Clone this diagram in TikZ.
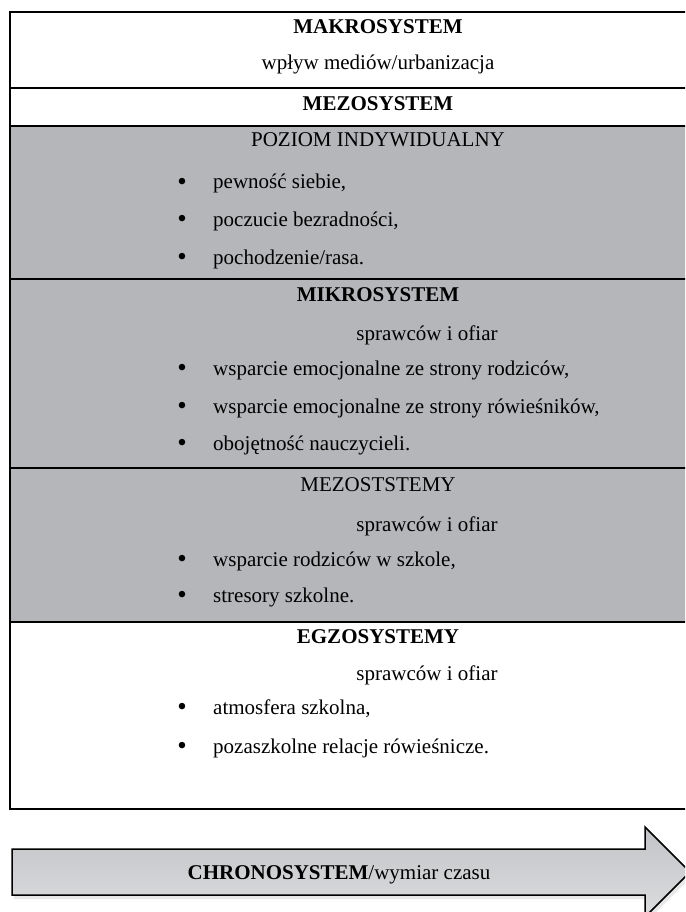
\documentclass[tikz,border=0pt]{standalone}
\usepackage{fontspec}
\setmainfont{Liberation Serif}
\usetikzlibrary{shadows}
\definecolor{bandgrey}{HTML}{B4B6B9}
\definecolor{arrowtop}{HTML}{C2C3C6}
\definecolor{arrowbot}{HTML}{DCDDDF}

\begin{document}
\begin{tikzpicture}[x=1pt, y=-1pt,
                    txt/.style={inner sep=0pt, anchor=base, font=\fontsize{21}{25}\selectfont},
                    head/.style={txt, font=\fontsize{21}{25}\selectfont\bfseries},
                    dot/.style={txt, font=\fontsize{27}{30}\selectfont},
                    entry/.style={txt, anchor=base west},
                    rule/.style={line width=2pt}]

  \clip (0,0) rectangle (685,912);
  \useasboundingbox (0,0) rectangle (685,912);

  % grey band and frame
  \fill[bandgrey] (10,126) rectangle (750,622);
  \draw[rule] (10,12) rectangle (750,809);
  \foreach \y in {88,126,279,468,622}
    \draw[rule] (10,\y) -- (750,\y);

  % makrosystem
  \node[head] (makro) at (378,34) {MAKROSYSTEM};
  \node[txt] (media) at (378,70) {wpływ mediów/urbanizacja};
  \node[head] (mezo) at (378,111) {MEZOSYSTEM};

  % poziom indywidualny
  \node[txt] (poziom) at (378,147) {POZIOM INDYWIDUALNY};
  \node[dot] (p1) at (182,190) {•};
  \node[entry] (pt1) at (213,189) {pewność siebie,};
  \node[dot] (p2) at (182,227) {•};
  \node[entry] (pt2) at (213,226) {poczucie bezradności,};
  \node[dot] (p3) at (182,265) {•};
  \node[entry] (pt3) at (213,264) {pochodzenie/rasa.};

  % mikrosystem
  \node[head] (mikro) at (378,301) {MIKROSYSTEM};
  \node[txt] (mikrosub) at (427,340) {sprawców i ofiar};
  \node[dot] (m1) at (182,376) {•};
  \node[entry] (mt1) at (213,375) {wsparcie emocjonalne ze strony rodziców,};
  \node[dot] (m2) at (182,414) {•};
  \node[entry] (mt2) at (213,413) {wsparcie emocjonalne ze strony rówieśników,};
  \node[dot] (m3) at (182,451) {•};
  \node[entry] (mt3) at (213,450) {obojętność nauczycieli.};

  % mezoststemy
  \node[txt] (mezost) at (378,491) {MEZOSTSTEMY};
  \node[txt] (mezostsub) at (427,531) {sprawców i ofiar};
  \node[dot] (s1) at (182,567) {•};
  \node[entry] (st1) at (213,566) {wsparcie rodziców w szkole,};
  \node[dot] (s2) at (182,603) {•};
  \node[entry] (st2) at (213,602) {stresory szkolne.};

  % egzosystemy
  \node[head] (egzo) at (378,643) {EGZOSYSTEMY};
  \node[txt] (egzosub) at (427,680) {sprawców i ofiar};
  \node[dot] (e1) at (182,715) {•};
  \node[entry] (et1) at (213,714) {atmosfera szkolna,};
  \node[dot] (e2) at (182,754) {•};
  \node[entry] (et2) at (213,753) {pozaszkolne relacje rówieśnicze.};

  % chronosystem arrow
  \draw[line width=1.5pt, top color=arrowtop, bottom color=arrowbot,
        drop shadow={opacity=0.18, shadow xshift=2pt, shadow yshift=-4pt}]
    (12,849) -- (645,849) -- (645,827) -- (690,872) -- (645,917)
    -- (645,895) -- (12,895) -- cycle;
  \node[txt] (chrono) at (339,879) {\textbf{CHRONOSYSTEM}/wymiar czasu};
\end{tikzpicture}
\end{document}
